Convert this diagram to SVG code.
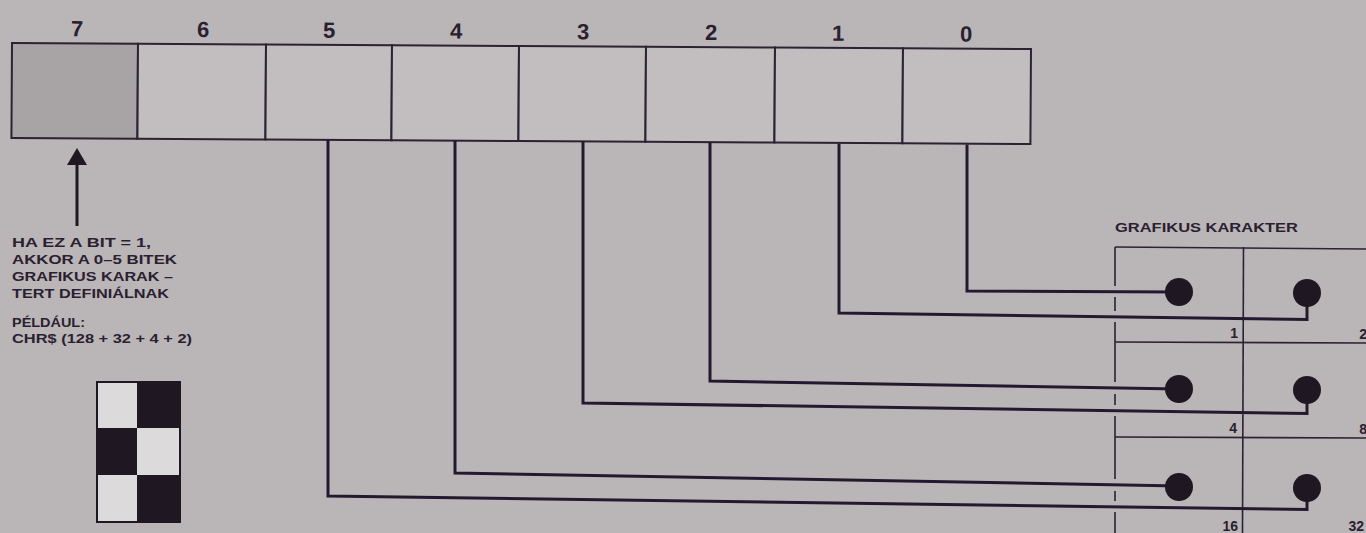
<svg xmlns="http://www.w3.org/2000/svg" width="1366" height="533" viewBox="0 0 1366 533">
<style>
.bg{fill:#bab6b7}
.cell{fill:#c2bebf;stroke:#2b2233;stroke-width:2}
.cell7{fill:#a8a3a5;stroke:#2b2233;stroke-width:2}
.num{font-family:"Liberation Sans",Arial,sans-serif;font-weight:bold;font-size:22px;fill:#2a2030;text-anchor:middle}
.txt{font-family:"Liberation Sans",Arial,sans-serif;font-weight:bold;font-size:13px;fill:#2a2030}
.val{font-family:"Liberation Sans",Arial,sans-serif;font-weight:bold;font-size:14px;fill:#2a2030;text-anchor:end}
.wire{fill:none;stroke:#241a30;stroke-width:3;stroke-linejoin:miter}
.grid{fill:none;stroke:#2b2233;stroke-width:1.6}
.dot{fill:#1f1722}
.chk{stroke:#1f1722;stroke-width:2}
</style>
<rect class="bg" x="0" y="0" width="1366" height="533"/>

<g id="register" transform="rotate(0.34 12 43)">
  <g id="bit7"><rect class="cell7" x="12" y="43" width="126" height="95"/><text class="num" x="77" y="36">7</text></g>
  <g id="bit6"><rect class="cell" x="138" y="43" width="128" height="95"/><text class="num" x="203" y="36">6</text></g>
  <g id="bit5"><rect class="cell" x="266" y="43" width="126" height="95"/><text class="num" x="329" y="36">5</text></g>
  <g id="bit4"><rect class="cell" x="392" y="43" width="127" height="95"/><text class="num" x="456" y="36">4</text></g>
  <g id="bit3"><rect class="cell" x="519" y="43" width="127" height="95"/><text class="num" x="583" y="36">3</text></g>
  <g id="bit2"><rect class="cell" x="646" y="43" width="129" height="95"/><text class="num" x="711" y="36">2</text></g>
  <g id="bit1"><rect class="cell" x="775" y="43" width="128" height="95"/><text class="num" x="838" y="36">1</text></g>
  <g id="bit0"><rect class="cell" x="903" y="43" width="128" height="95"/><text class="num" x="966" y="36">0</text></g>
</g>

<g id="note">
  <line x1="77" y1="226" x2="77" y2="162" stroke="#1f1722" stroke-width="3"/>
  <polygon points="77,148 67,165 87,165" fill="#1f1722"/>
  <text class="txt" x="12" y="247" textLength="139" lengthAdjust="spacingAndGlyphs">HA EZ A BIT = 1,</text>
  <text class="txt" x="12" y="264" textLength="165" lengthAdjust="spacingAndGlyphs">AKKOR A 0–5 BITEK</text>
  <text class="txt" x="12" y="281" textLength="161" lengthAdjust="spacingAndGlyphs">GRAFIKUS KARAK –</text>
  <text class="txt" x="12" y="298" textLength="157" lengthAdjust="spacingAndGlyphs">TERT DEFINIÁLNAK</text>
  <text class="txt" x="12" y="327" textLength="73" lengthAdjust="spacingAndGlyphs">PÉLDÁUL:</text>
  <text class="txt" x="12" y="343" textLength="180" lengthAdjust="spacingAndGlyphs">CHR$ (128 + 32 + 4 + 2)</text>
</g>

<g id="example">
  <rect x="97" y="382" width="40" height="46" fill="#dddadb"/>
  <rect x="137" y="382" width="43" height="46" fill="#1f1722"/>
  <rect x="97" y="428" width="40" height="47" fill="#1f1722"/>
  <rect x="137" y="428" width="43" height="47" fill="#dddadb"/>
  <rect x="97" y="475" width="40" height="47" fill="#dddadb"/>
  <rect x="137" y="475" width="43" height="47" fill="#1f1722"/>
  <rect x="97" y="382" width="83" height="140" fill="none" class="chk"/>
</g>

<g id="grafikus">
  <text class="txt" x="1115" y="232" textLength="183" lengthAdjust="spacingAndGlyphs">GRAFIKUS KARAKTER</text>
  <line class="grid" x1="1115" y1="247" x2="1366" y2="249"/>
  <line class="grid" x1="1115" y1="342" x2="1366" y2="343"/>
  <line class="grid" x1="1115" y1="437" x2="1366" y2="438"/>
  <line class="grid" x1="1243.5" y1="247" x2="1242.5" y2="533"/>
  <path class="grid" d="M1115,247V286M1115,297V311M1115,322V382M1115,394V405M1115,416V479M1115,491V501M1115,512V533"/>
  <text class="val" x="1238" y="338">1</text>
  <text class="val" x="1367" y="339">2</text>
  <text class="val" x="1237" y="433">4</text>
  <text class="val" x="1367" y="434">8</text>
  <text class="val" x="1238" y="531">16</text>
  <text class="val" x="1364" y="531">32</text>
</g>

<g id="connectors">
  <path class="wire" d="M967,144.5V291L1179,292"/>
  <path class="wire" d="M839,143.5V313L1307,319.5V293"/>
  <path class="wire" d="M710,142.5V381L1179,389"/>
  <path class="wire" d="M583,141.5V403L1307,413.5V390"/>
  <path class="wire" d="M455,140.5V473L1179,486"/>
  <path class="wire" d="M328,139.5V496L1307,509.5V488"/>
</g>

<g id="dots">
  <circle class="dot" cx="1179" cy="292" r="14"/>
  <circle class="dot" cx="1307" cy="293" r="14"/>
  <circle class="dot" cx="1179" cy="389" r="14"/>
  <circle class="dot" cx="1307" cy="390" r="14"/>
  <circle class="dot" cx="1179" cy="487" r="14"/>
  <circle class="dot" cx="1307" cy="488" r="14"/>
</g>
</svg>
